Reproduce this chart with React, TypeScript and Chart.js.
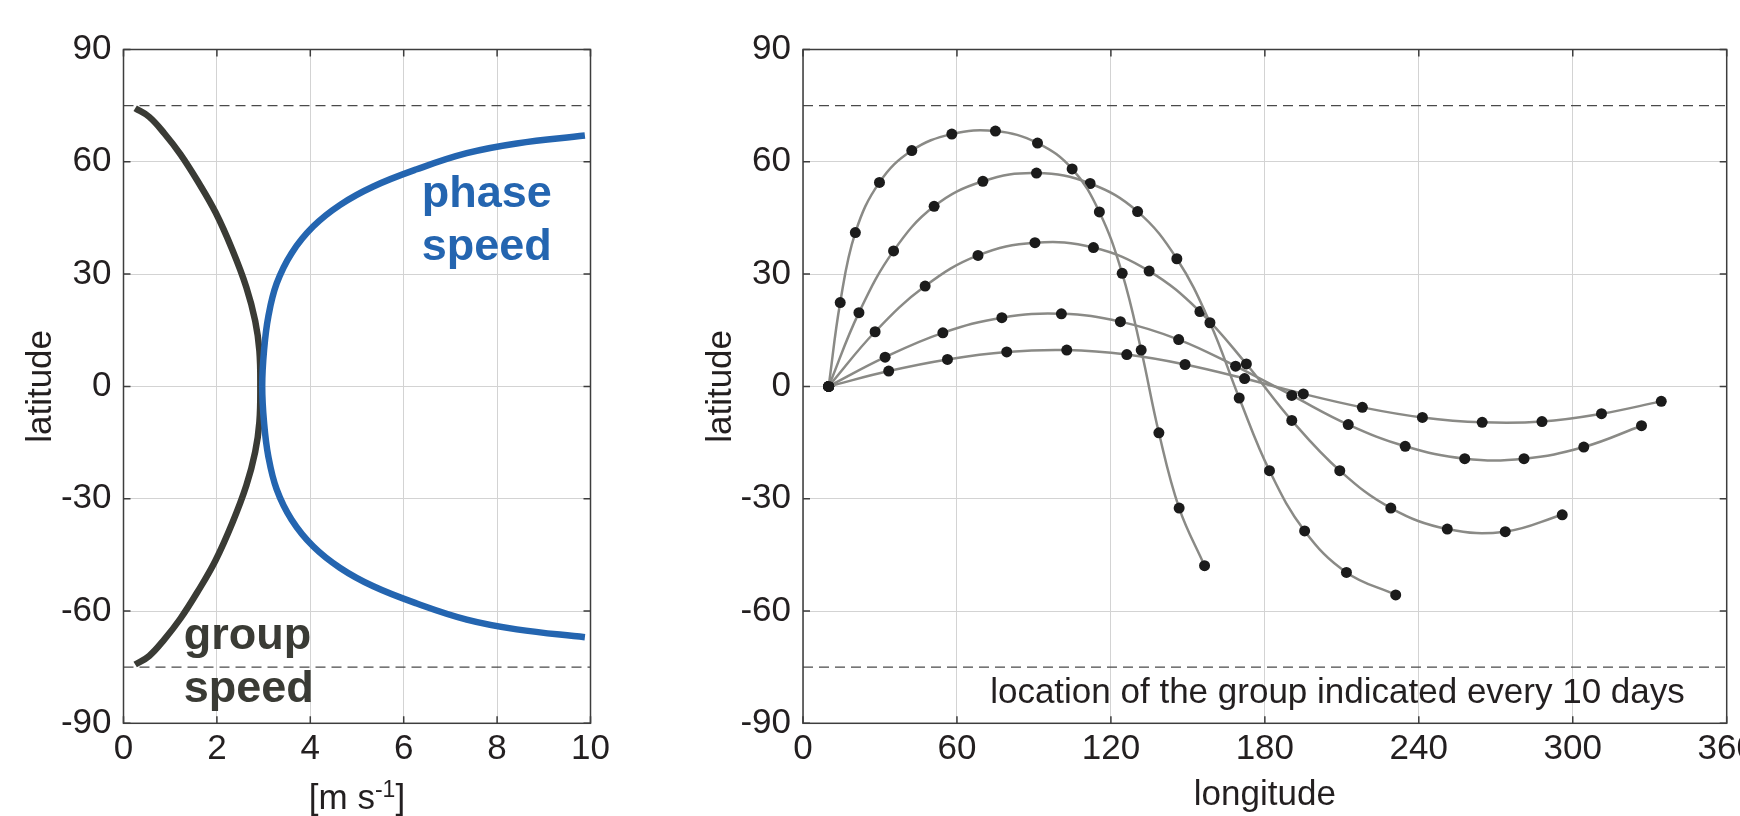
import React, { useEffect, useRef } from 'react';
import { Chart, registerables } from 'chart.js';

Chart.register(...registerables);

// ---------- data: left panel (speed vs latitude) ----------
const speedTicks = [0, 2, 4, 6, 8, 10];
const latTicks = [-90, -60, -30, 0, 30, 60, 90];
const criticalLat = 75;

const groupSpeedX = [0.25, 0.55, 0.88, 1.22, 1.58, 1.97, 2.33, 2.63, 2.82, 2.91, 2.93, 2.91, 2.82, 2.63, 2.33, 1.97, 1.58, 1.22, 0.88, 0.55, 0.25];
const groupSpeedLat = [74.3, 72.0, 67.5, 62.0, 55.0, 46.5, 36.5, 26.5, 17.5, 9.5, 0, -9.5, -17.5, -26.5, -36.5, -46.5, -55.0, -62.0, -67.5, -72.0, -74.3];

const phaseSpeedX = [9.88, 8.42, 7.35, 6.28, 5.35, 4.64, 4.06, 3.6, 3.28, 3.1, 3.01, 2.97, 3.01, 3.1, 3.28, 3.6, 4.06, 4.64, 5.35, 6.28, 7.35, 8.42, 9.88];
const phaseSpeedLat = [67.0, 64.9, 62.3, 58.0, 53.4, 48.5, 42.7, 35.6, 27.5, 18.6, 9.7, 0, -9.7, -18.6, -27.5, -35.6, -42.7, -48.5, -53.4, -58.0, -62.3, -64.9, -67.0];

// ---------- data: right panel (group location every 10 days) ----------
const lonTicks = [0, 60, 120, 180, 240, 300, 360];

const track1Lon = [10, 14.5, 20.4, 29.8, 42.4, 58.0, 75.0, 91.4, 104.9, 115.5, 124.4, 131.8, 138.7, 146.6, 156.5];
const track1Lat = [0, 22.4, 41.1, 54.5, 63.0, 67.4, 68.2, 65.0, 58.1, 46.6, 30.2, 9.7, -12.4, -32.5, -47.9];

const track2Lon = [10, 21.8, 35.3, 51.1, 70.1, 91.0, 111.9, 130.4, 145.7, 158.6, 170.0, 181.8, 195.5, 211.8, 231.0];
const track2Lat = [0, 19.7, 36.2, 48.1, 54.8, 57.0, 54.2, 46.7, 34.1, 17.0, -3.1, -22.5, -38.6, -49.7, -55.7];

const track3Lon = [10, 28.1, 47.6, 68.2, 90.4, 113.2, 134.9, 154.7, 172.8, 190.5, 209.2, 229.1, 251.1, 273.7, 295.9];
const track3Lat = [0, 14.6, 26.8, 35.0, 38.4, 37.1, 30.8, 20.0, 6.0, -9.1, -22.5, -32.5, -38.1, -38.8, -34.3];

const track4Lon = [10, 32.0, 54.5, 77.5, 100.7, 123.7, 146.4, 168.6, 190.5, 212.5, 234.7, 257.9, 281.0, 304.3, 326.8];
const track4Lat = [0, 7.8, 14.3, 18.35, 19.4, 17.3, 12.5, 5.4, -2.4, -10.2, -16.0, -19.3, -19.3, -16.2, -10.5];

const track5Lon = [10, 33.4, 56.3, 79.4, 102.8, 126.2, 148.9, 172.1, 195.0, 218.0, 241.4, 264.7, 288.0, 311.2, 334.5];
const track5Lat = [0, 4.1, 7.2, 9.2, 9.7, 8.5, 5.85, 2.1, -2.0, -5.6, -8.3, -9.6, -9.4, -7.3, -4.0];

// ---------- styling ----------
const FONT = '"Liberation Sans", Arial, Helvetica, sans-serif';
const TEXT = '#231f20';
const GRID = '#d3d3d3';
const BOX = '#3d3d3d';
const BLUE = '#2465b0';
const DARK = '#3a3b35';
const TRACK = '#8a8a86';
const DOT = '#1b1b1b';
const FS = 35;

const zip = (xs: number[], ys: number[]) => xs.map((x, i) => ({ x, y: ys[i] }));

function framePlugin(drawExtra: (chart: any) => void) {
  return {
    id: 'frame',
    afterDatasetsDraw(chart: any) {
      const { ctx, chartArea: a, scales } = chart;
      ctx.save();
      ctx.strokeStyle = BOX;
      ctx.lineWidth = 1.5;
      const L = 7;
      ctx.beginPath();
      scales.x.ticks.forEach((t: any) => {
        const p = scales.x.getPixelForValue(t.value);
        ctx.moveTo(p, a.bottom);
        ctx.lineTo(p, a.bottom - L);
        ctx.moveTo(p, a.top);
        ctx.lineTo(p, a.top + L);
      });
      scales.y.ticks.forEach((t: any) => {
        const p = scales.y.getPixelForValue(t.value);
        ctx.moveTo(a.left, p);
        ctx.lineTo(a.left + L, p);
        ctx.moveTo(a.right, p);
        ctx.lineTo(a.right - L, p);
      });
      ctx.stroke();
      ctx.strokeRect(a.left, a.top, a.right - a.left, a.bottom - a.top);
      ctx.restore();
      ctx.save();
      drawExtra(chart);
      ctx.restore();
    },
  };
}

function axisOptions(min: number, max: number, step: number, yWidth: number, xHeight: number, xTitle: string | null) {
  const tickFont = { family: FONT, size: FS };
  return {
    x: {
      type: 'linear',
      min,
      max,
      ticks: { stepSize: step, autoSkip: false, font: tickFont, color: TEXT, padding: 5, maxRotation: 0 },
      grid: { color: GRID, lineWidth: 1, drawTicks: false },
      border: { display: false },
      title: xTitle
        ? { display: true, text: xTitle, font: { family: FONT, size: FS }, color: TEXT, padding: { top: 0, bottom: 0 } }
        : { display: false },
      afterFit: (s: any) => {
        s.height = xHeight;
        s.paddingLeft = 0;
        s.paddingRight = 0;
      },
    },
    y: {
      type: 'linear',
      min: -90,
      max: 90,
      ticks: { stepSize: 30, autoSkip: false, font: tickFont, color: TEXT, padding: 12 },
      grid: { color: GRID, lineWidth: 1, drawTicks: false },
      border: { display: false },
      title: { display: true, text: 'latitude', font: { family: FONT, size: FS }, color: TEXT, padding: { top: 20, bottom: 0 } },
      afterFit: (s: any) => {
        s.width = yWidth;
        s.paddingTop = 0;
        s.paddingBottom = 0;
      },
    },
  };
}

const dashed = (x0: number, x1: number, lat: number) => ({
  data: [{ x: x0, y: lat }, { x: x1, y: lat }],
  borderColor: '#4a4a4a',
  borderWidth: 1.2,
  borderDash: [10, 6],
  pointRadius: 0,
  tension: 0,
});

export default function App() {
  const leftRef = useRef<HTMLCanvasElement>(null);
  const rightRef = useRef<HTMLCanvasElement>(null);

  useEffect(() => {
    const leftExtra = (chart: any) => {
      const { ctx, chartArea: a, scales } = chart;
      ctx.textAlign = 'left';
      ctx.textBaseline = 'alphabetic';
      ctx.font = `bold 45px ${FONT}`;
      ctx.fillStyle = BLUE;
      const px = scales.x.getPixelForValue(6.385);
      ctx.fillText('phase', px, scales.y.getPixelForValue(48.0));
      ctx.fillText('speed', px, scales.y.getPixelForValue(33.8));
      ctx.fillStyle = DARK;
      const gx = scales.x.getPixelForValue(1.29);
      ctx.fillText('group', gx, scales.y.getPixelForValue(-70.2));
      ctx.fillText('speed', gx, scales.y.getPixelForValue(-84.2));
      // x-axis title with superscript
      const base = 808.5;
      ctx.fillStyle = TEXT;
      ctx.font = `${FS}px ${FONT}`;
      const w1 = ctx.measureText('[m s').width;
      const w3 = ctx.measureText(']').width;
      ctx.font = `23px ${FONT}`;
      const w2 = ctx.measureText('-1').width;
      let x = (a.left + a.right) / 2 - (w1 + w2 + w3) / 2;
      ctx.font = `${FS}px ${FONT}`;
      ctx.fillText('[m s', x, base);
      x += w1;
      ctx.font = `23px ${FONT}`;
      ctx.fillText('-1', x, base - 12);
      x += w2;
      ctx.font = `${FS}px ${FONT}`;
      ctx.fillText(']', x, base);
    };

    const left = new Chart(leftRef.current!, {
      type: 'line',
      data: {
        datasets: [
          dashed(0, 10, criticalLat),
          dashed(0, 10, -criticalLat),
          {
            data: zip(phaseSpeedX, phaseSpeedLat),
            borderColor: BLUE,
            borderWidth: 6.5,
            pointRadius: 0,
            tension: 0.4,
          },
          {
            data: zip(groupSpeedX, groupSpeedLat),
            borderColor: DARK,
            borderWidth: 6.5,
            pointRadius: 0,
            tension: 0.4,
          },
        ],
      },
      options: {
        responsive: false,
        animation: false,
        events: [],
        layout: { padding: { left: 0, top: 49.5, right: 49.5, bottom: 0 } },
        plugins: { legend: { display: false }, tooltip: { enabled: false } },
        scales: axisOptions(speedTicks[0], speedTicks[speedTicks.length - 1], 2, 123.5, 92.7, null) as any,
      },
      plugins: [framePlugin(leftExtra)],
    } as any);

    const rightExtra = (chart: any) => {
      const { ctx, scales } = chart;
      ctx.textAlign = 'center';
      ctx.textBaseline = 'alphabetic';
      ctx.font = `${FS}px ${FONT}`;
      ctx.fillStyle = TEXT;
      ctx.fillText(
        'location of the group indicated every 10 days',
        scales.x.getPixelForValue(208.3),
        scales.y.getPixelForValue(-84.7)
      );
    };

    const trackStyle = {
      borderColor: TRACK,
      borderWidth: 2.5,
      pointRadius: 5.5,
      pointBackgroundColor: DOT,
      pointBorderColor: DOT,
      pointBorderWidth: 0,
      tension: 0.4,
    };

    const right = new Chart(rightRef.current!, {
      type: 'line',
      data: {
        datasets: [
          dashed(0, 360, criticalLat),
          dashed(0, 360, -criticalLat),
          { data: zip(track1Lon, track1Lat), ...trackStyle },
          { data: zip(track2Lon, track2Lat), ...trackStyle },
          { data: zip(track3Lon, track3Lat), ...trackStyle },
          { data: zip(track4Lon, track4Lat), ...trackStyle },
          { data: zip(track5Lon, track5Lat), ...trackStyle },
        ],
      },
      options: {
        responsive: false,
        animation: false,
        events: [],
        layout: { padding: { left: 0, top: 49.5, right: 53.3, bottom: 0 } },
        plugins: { legend: { display: false }, tooltip: { enabled: false } },
        scales: axisOptions(lonTicks[0], lonTicks[lonTicks.length - 1], 60, 123, 92.7, 'longitude') as any,
      },
      plugins: [framePlugin(rightExtra)],
    } as any);

    return () => {
      left.destroy();
      right.destroy();
    };
  }, []);

  return (
    <div
      style={{
        position: 'absolute',
        left: 0,
        top: 0,
        width: 1740,
        height: 816,
        overflow: 'hidden',
        background: '#ffffff',
      }}
    >
      <canvas
        ref={leftRef}
        width={640}
        height={816}
        style={{ position: 'absolute', left: 0, top: 0, width: 640, height: 816 }}
      />
      <canvas
        ref={rightRef}
        width={1100}
        height={816}
        style={{ position: 'absolute', left: 680, top: 0, width: 1100, height: 816 }}
      />
    </div>
  );
}
